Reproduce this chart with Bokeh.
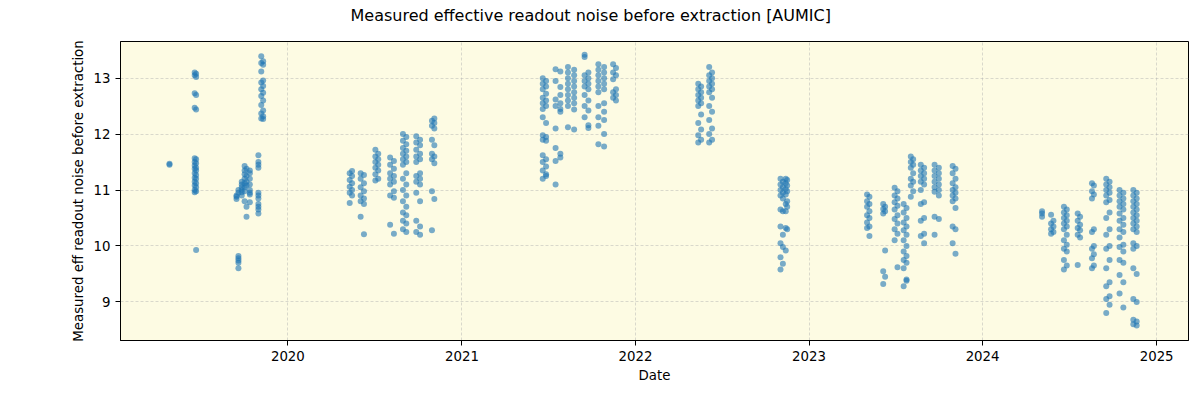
import pandas as pd
from bokeh.plotting import figure
from bokeh.models import FixedTicker, DatetimeTickFormatter, Range1d, Title, ColumnDataSource
from bokeh.embed import file_html
from bokeh.resources import INLINE

# ---- data: one entry per observing night, values of measured noise ----
dates_2019 = ["2019-04-27", "2019-06-19", "2019-06-22", "2019-09-15", "2019-09-19",
              "2019-09-26", "2019-10-02", "2019-10-06", "2019-10-13", "2019-10-31",
              "2019-11-06", "2019-11-10"]
values_2019 = [
    [11.45, 11.47],
    [13.1, 13.05, 12.73, 12.47, 11.57, 11.5, 11.44, 11.38, 11.3, 11.22, 11.15, 11.08, 11.0, 10.96],
    [13.08, 13.02, 12.7, 12.44, 11.55, 11.48, 11.4, 11.35, 11.27, 11.2, 11.12, 11.05, 10.98, 9.93],
    [10.88, 10.84, 10.9],
    [11.0, 10.95, 9.82, 9.78, 9.74, 9.7, 9.6],
    [11.1, 11.05, 11.0, 10.96, 10.9, 11.15],
    [11.43, 11.35, 11.28, 11.2, 11.12, 11.05, 10.98, 10.8],
    [11.38, 11.25, 11.15, 11.08, 10.7, 10.52],
    [11.35, 11.3, 11.2, 11.1, 11.0, 10.95, 10.92, 10.78],
    [11.62, 11.5, 11.45, 11.4, 10.95, 10.9, 10.85, 10.75, 10.7, 10.65, 10.58],
    [13.39, 13.27, 13.12, 12.92, 12.8, 12.68, 12.52, 12.37, 12.28],
    [13.3, 13.24, 12.96, 12.86, 12.74, 12.6, 12.42, 12.32, 12.27],
]

dates_2020 = ["2020-05-10", "2020-05-15", "2020-06-02", "2020-06-09", "2020-07-03",
              "2020-07-09", "2020-08-03", "2020-08-11", "2020-08-30", "2020-09-06",
              "2020-09-27", "2020-10-05", "2020-10-30", "2020-11-04"]
values_2020 = [
    [11.3, 11.18, 11.06, 10.95, 10.77],
    [11.34, 11.25, 11.12, 11.0, 10.9],
    [11.3, 11.2, 11.05, 10.9, 10.8, 10.52],
    [11.27, 11.12, 10.98, 10.85, 10.75, 10.21],
    [11.72, 11.6, 11.5, 11.4, 11.28, 11.17],
    [11.65, 11.55, 11.45, 11.35, 11.2],
    [11.58, 11.45, 11.3, 11.2, 11.1, 10.9, 10.38],
    [11.52, 11.38, 11.25, 11.15, 10.98, 10.86, 10.22],
    [12.0, 11.88, 11.75, 11.65, 11.55, 11.45, 11.2, 11.0, 10.8, 10.6, 10.45, 10.3],
    [11.95, 11.82, 11.7, 11.6, 11.5, 11.3, 11.1, 10.9, 10.7, 10.55, 10.4, 10.25],
    [11.96, 11.85, 11.72, 11.6, 11.5, 11.25, 11.15, 10.95, 10.45, 10.25],
    [11.9, 11.8, 11.65, 11.55, 11.3, 11.2, 11.1, 10.8, 10.35, 10.2],
    [12.24, 12.15, 11.9, 11.65, 11.55, 10.98, 10.28],
    [12.28, 12.2, 12.1, 11.8, 11.6, 11.48, 10.84],
]

dates_2021 = ["2021-06-20", "2021-06-27", "2021-07-17", "2021-07-27", "2021-08-12",
              "2021-08-25", "2021-09-16", "2021-09-24", "2021-10-15", "2021-10-27",
              "2021-11-15", "2021-11-21"]
values_2021 = [
    [13.0, 12.9, 12.8, 12.65, 12.55, 12.45, 12.3, 11.98, 11.9, 11.62, 11.5, 11.35, 11.2],
    [12.95, 12.85, 12.72, 12.6, 12.5, 12.2, 11.95, 11.88, 11.55, 11.42, 11.28, 11.25],
    [13.16, 12.95, 12.62, 12.5, 12.1, 11.75, 11.52, 11.1],
    [13.12, 12.84, 12.7, 12.55, 12.45, 12.4, 11.65, 11.58],
    [13.2, 13.1, 13.0, 12.9, 12.8, 12.7, 12.6, 12.5, 12.12],
    [13.15, 13.05, 12.95, 12.85, 12.75, 12.65, 12.55, 12.44, 12.08],
    [13.42, 13.38, 13.05, 12.95, 12.85, 12.7, 12.5, 12.3],
    [13.1, 13.0, 12.9, 12.8, 12.6, 12.42, 12.16, 12.11],
    [13.25, 13.15, 13.05, 12.95, 12.85, 12.75, 12.5, 12.3, 12.15, 11.82],
    [13.2, 13.1, 13.0, 12.9, 12.8, 12.55, 12.4, 12.25, 12.0, 11.78],
    [13.25, 13.1, 12.98, 12.75, 12.65],
    [13.18, 13.05, 12.8, 12.7, 12.6],
]

dates_2022 = ["2022-05-13", "2022-05-19", "2022-06-05", "2022-06-11",
              "2022-11-02", "2022-11-07", "2022-11-13", "2022-11-16"]
values_2022 = [
    [12.9, 12.8, 12.7, 12.6, 12.5, 12.2, 11.98, 11.85],
    [12.85, 12.75, 12.65, 12.55, 12.35, 12.08, 11.9],
    [13.2, 13.05, 12.95, 12.85, 12.75, 12.5, 12.25, 12.0, 11.85],
    [13.1, 13.0, 12.9, 12.8, 12.65, 12.4, 12.1, 11.9],
    [11.2, 11.1, 11.0, 10.9, 10.65, 10.35, 10.05, 9.8, 9.58],
    [11.15, 11.05, 10.95, 10.85, 10.62, 10.2, 9.98, 9.68],
    [11.2, 11.12, 11.02, 10.92, 10.75, 10.62, 10.32, 9.92],
    [11.18, 11.08, 10.98, 10.8, 10.7, 10.3],
]

dates_2023 = ["2023-05-03", "2023-05-08", "2023-06-06", "2023-06-10", "2023-06-30",
              "2023-07-06", "2023-07-19", "2023-07-25", "2023-08-03", "2023-08-08",
              "2023-08-24", "2023-08-31", "2023-09-22", "2023-10-01", "2023-10-30",
              "2023-11-05"]
values_2023 = [
    [10.92, 10.8, 10.7, 10.55, 10.42, 10.32],
    [10.88, 10.75, 10.62, 10.5, 10.35, 10.18],
    [10.75, 10.66, 10.58, 9.55, 9.32],
    [10.7, 10.62, 9.92, 9.45],
    [11.04, 10.9, 10.78, 10.65, 10.48, 10.3, 10.1],
    [10.98, 10.85, 10.72, 10.55, 10.4, 10.22, 9.62],
    [10.75, 10.6, 10.42, 10.28, 10.1, 9.9, 9.75, 9.6, 9.28],
    [10.68, 10.5, 10.35, 10.2, 10.0, 9.82, 9.7, 9.4, 9.38],
    [11.6, 11.5, 11.4, 11.2, 11.08, 10.88],
    [11.55, 11.45, 11.3, 11.15, 10.98],
    [11.45, 11.35, 11.25, 11.15, 11.0, 10.75, 10.45, 10.18],
    [11.4, 11.3, 11.2, 11.1, 10.78, 10.5, 10.22, 10.05],
    [11.45, 11.35, 11.25, 11.15, 11.05, 10.97, 10.52, 10.2],
    [11.4, 11.3, 11.2, 11.1, 11.0, 10.9, 10.48],
    [11.43, 11.3, 11.12, 11.0, 10.9, 10.8, 10.35, 10.05],
    [11.38, 11.2, 11.05, 10.95, 10.85, 10.68, 10.3, 9.86],
]

dates_2024 = ["2024-05-05", "2024-05-24", "2024-05-29", "2024-06-20", "2024-06-26",
              "2024-07-19", "2024-07-24", "2024-08-18", "2024-08-22", "2024-09-17",
              "2024-09-24", "2024-10-15", "2024-10-23", "2024-11-13", "2024-11-20"]
values_2024 = [
    [10.62, 10.58, 10.52],
    [10.56, 10.4, 10.3, 10.22],
    [10.45, 10.35, 10.25],
    [10.7, 10.6, 10.5, 10.4, 10.3, 10.1, 9.95, 9.75, 9.58],
    [10.65, 10.55, 10.45, 10.35, 10.2, 10.02, 9.9, 9.65],
    [10.58, 10.45, 10.32, 10.2, 9.66],
    [10.52, 10.38, 10.28, 10.15],
    [11.12, 10.98, 10.85, 10.25, 9.95, 9.78, 9.6],
    [11.08, 10.92, 10.3, 10.0, 9.85, 9.65],
    [11.2, 11.1, 11.0, 10.9, 10.78, 10.5, 10.2, 9.95, 9.6, 9.28, 9.05, 8.8],
    [11.15, 11.05, 10.95, 10.82, 10.6, 10.3, 10.0, 9.75, 9.35, 9.1, 8.95],
    [11.0, 10.9, 10.8, 10.7, 10.58, 10.45, 10.3, 10.15, 9.98, 9.75, 9.48, 9.15],
    [10.95, 10.85, 10.75, 10.65, 10.5, 10.38, 10.25, 10.02, 9.9, 9.7, 9.35, 8.9],
    [11.0, 10.9, 10.8, 10.7, 10.6, 10.5, 10.4, 10.3, 10.05, 9.95, 9.6, 9.05, 8.68, 8.6],
    [10.95, 10.85, 10.75, 10.65, 10.55, 10.45, 10.35, 10.25, 10.0, 9.5, 9.0, 8.65, 8.58],
]

year_ticks = [2020, 2021, 2022, 2023, 2024, 2025]
y_ticks = [9, 10, 11, 12, 13]
title_text = "Measured effective readout noise before extraction [AUMIC]"

# ---- build flat columns ----
xs, ys = [], []
for dl, vl in [(dates_2019, values_2019), (dates_2020, values_2020), (dates_2021, values_2021),
               (dates_2022, values_2022), (dates_2023, values_2023), (dates_2024, values_2024)]:
    for d, vals in zip(dl, vl):
        for v in vals:
            xs.append(pd.Timestamp(d))
            ys.append(v)
src = ColumnDataSource(dict(x=xs, y=ys))


def ms(ts):
    return pd.Timestamp(ts).value / 1e6


W, H = 1192, 392
BL, BR, BT, BB = 120, 4, 41, 52
p = figure(width=W, height=H, x_axis_type="datetime", output_backend="svg",
           toolbar_location=None,
           x_range=Range1d(ms("2019-01-14"), ms("2025-03-09")),
           y_range=Range1d(8.31, 13.655),
           min_border_left=BL, min_border_right=BR, min_border_top=BT, min_border_bottom=BB)

# white (invisible on white border) spacer title next to the frame, then the real title
p.add_layout(Title(text="I", text_font_size="5px", text_color="white", standoff=7), "above")
p.add_layout(Title(text=title_text, text_font="DejaVu Sans", text_font_size="16px",
                   text_font_style="normal", text_color="black",
                   align="left", offset=230, vertical_align="top", standoff=0), "above")

p.background_fill_color = "#fdfbe3"
p.border_fill_color = "white"
p.outline_line_color = "black"
p.outline_line_width = 1
p.outline_line_alpha = 1

p.scatter("x", "y", source=src, size=6, marker="circle",
          fill_color="#1f77b4", fill_alpha=0.6, line_color=None)

p.xaxis.ticker = FixedTicker(ticks=[ms(f"{y}-01-01") for y in year_ticks])
p.xaxis.formatter = DatetimeTickFormatter(years="%Y", months="%Y", days="%Y", hours="%Y",
                                          minutes="%Y", seconds="%Y", milliseconds="%Y",
                                          hourmin="%Y", minsec="%Y")
p.yaxis.ticker = FixedTicker(ticks=y_ticks)

p.xaxis.axis_label = "Date"
p.yaxis.axis_label = "Measured eff readout noise before extraction"
for ax in (p.xaxis, p.yaxis):
    ax.axis_label_text_font = "DejaVu Sans"
    ax.axis_label_text_font_size = "13.33px"
    ax.axis_label_text_font_style = "normal"
    ax.axis_label_text_color = "black"
    ax.major_label_text_font = "DejaVu Sans"
    ax.major_label_text_font_size = "13.33px"
    ax.major_label_text_color = "black"
    ax.major_tick_out = 5
    ax.major_tick_in = 0
    ax.minor_tick_line_color = None
    ax.axis_line_color = "black"
    ax.major_tick_line_color = "black"
p.xaxis.axis_label_standoff = 4
p.yaxis.axis_label_standoff = 5

for g in (p.xgrid, p.ygrid):
    g.grid_line_color = "#b0b0b0"
    g.grid_line_alpha = 0.6
    g.grid_line_dash = "3 2"
    g.grid_line_width = 0.8

open("out.html", "w").write(file_html(p, INLINE))
